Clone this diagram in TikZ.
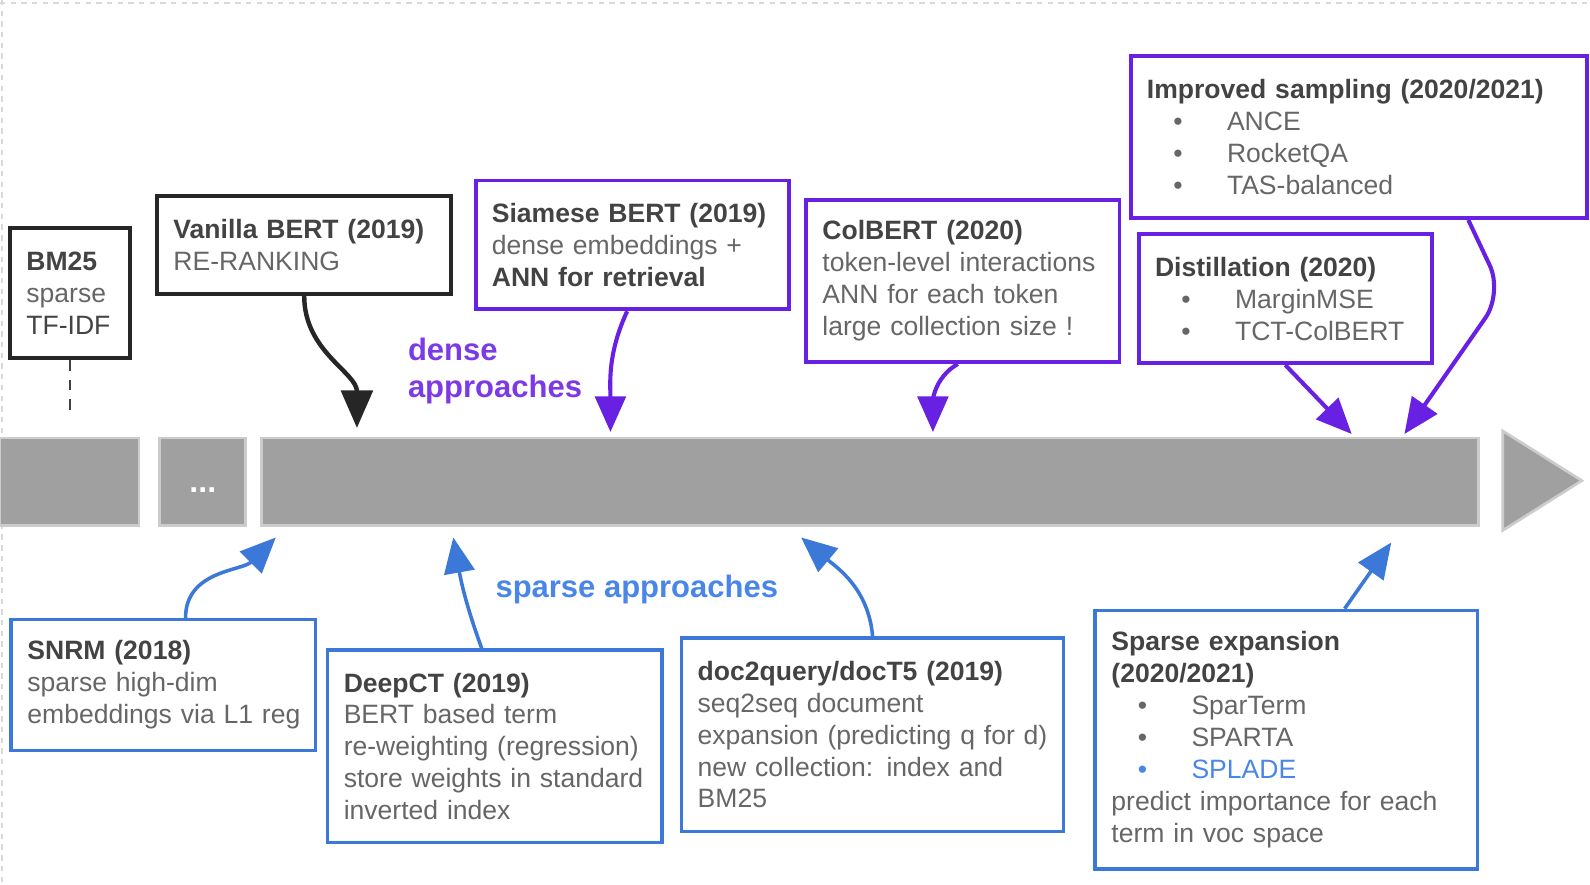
\documentclass[tikz,border=0pt]{standalone}
\usepackage{fontspec}
\setmainfont{Liberation Sans}
\usepackage{xcolor}
\usepackage{tikz}
\usetikzlibrary{arrows.meta}

\definecolor{dviolet}{RGB}{104,32,226}
\definecolor{dvtext}{RGB}{124,58,230}
\definecolor{sblue}{RGB}{60,120,216}
\definecolor{sbtext}{RGB}{74,134,232}
\definecolor{ttlgray}{RGB}{67,67,67}
\definecolor{txtgray}{RGB}{102,102,102}
\definecolor{barfill}{RGB}{160,160,160}
\definecolor{baredge}{RGB}{204,204,204}

\newcommand{\ttl}[1]{\textbf{\color{ttlgray}#1}}
\newcommand{\blt}{\hspace*{0.52cm}\makebox[1.06cm][l]{\textbullet}}

\begin{document}
\begin{tikzpicture}[
  x=0.02cm, y=0.02cm,
  event/.style={line width=2.2pt, align=left, inner xsep=0.32cm, inner ysep=0pt,
    text=txtgray, font=\fontsize{14.9}{17.9}\selectfont},
  basebox/.style={event, draw=black!85},
  densebox/.style={event, draw=dviolet},
  sparsebox/.style={event, draw=sblue, line width=2pt},
  era/.style={font=\fontsize{17.4}{21}\selectfont\bfseries, align=left, inner sep=0pt},
  seg/.style={fill=barfill, draw=baredge, line width=1.5pt},
  basearr/.style={line width=2.5pt, black!85, -{Triangle[length=0.74cm, width=0.62cm]}},
  densearr/.style={line width=2.3pt, dviolet, -{Triangle[length=0.7cm, width=0.6cm]}},
  sparsearr/.style={line width=2pt, sblue, -{Triangle[length=0.7cm, width=0.6cm]}},
]
  \useasboundingbox (0,0) rectangle (1568,-872);

  % faint frame
  \draw[gray!30, dashed, line width=0.8pt] (0,-3) -- (1568,-3);
  \draw[gray!30, dashed, line width=0.8pt] (2,0) -- (2,-872);

  % timeline
  \draw[seg] (0,-432) rectangle (137,-518);
  \draw[seg] (157,-432) rectangle (242,-518);
  \draw[seg] (258,-432) rectangle (1458,-518);
  \draw[seg] (1482,-425) -- (1560,-474) -- (1482,-523) -- cycle;
  \node[text=white, font=\bfseries\fontsize{18}{18}\selectfont] (more) at (200,-483) {...};

  % arrow tips on the timeline
  \coordinate (bm25-t) at (69,-412);
  \coordinate (vbert-t) at (352,-422);
  \coordinate (siam-t) at (602,-426);
  \coordinate (colbert-t) at (920,-426);
  \coordinate (distil-t) at (1333,-428);
  \coordinate (sampling-t) at (1385,-428);
  \coordinate (snrm-t) at (272,-530);
  \coordinate (deepct-t) at (447,-530);
  \coordinate (doc2q-t) at (790,-530);
  \coordinate (spexp-t) at (1372,-535);

  % above the line
  \node[basebox, text width=1.72cm, minimum height=2.56cm] (bm25) at (69,-289)
    {\ttl{BM25}\\sparse\\{\color{ttlgray}TF-IDF}};
  \node[basebox, text width=5.16cm, minimum height=1.94cm] (vbert) at (300,-241.5)
    {\ttl{Vanilla BERT (2019)}\\RE-RANKING};
  \node[densebox, text width=5.54cm, minimum height=2.54cm] (siam) at (623.5,-241.5)
    {\ttl{Siamese BERT (2019)}\\dense embeddings +\\\ttl{ANN for retrieval}};
  \node[densebox, text width=5.54cm, minimum height=3.2cm] (colbert) at (949.5,-277)
    {\ttl{ColBERT (2020)}\\token-level interactions\\ANN for each token\\large collection size !};
  \node[densebox, text width=8.36cm, minimum height=3.2cm] (sampling) at (1340,-135)
    {\ttl{Improved sampling (2020/2021)}\\\blt ANCE\\\blt RocketQA\\\blt TAS-balanced};
  \node[densebox, text width=5.14cm, minimum height=2.54cm] (distil) at (1267.5,-294.5)
    {\ttl{Distillation (2020)}\\\blt MarginMSE\\\blt TCT-ColBERT};

  \node[era, text=dvtext, anchor=west] (dense) at (402,-366) {dense\\approaches};

  % below the line
  \node[sparsebox, text width=5.36cm, minimum height=2.58cm] (snrm) at (161,-675.5)
    {\ttl{SNRM (2018)}\\sparse high-dim\\\mbox{embeddings via L1 reg}};
  \node[sparsebox, text width=5.96cm, minimum height=3.8cm] (deepct) at (488,-736)
    {\ttl{DeepCT (2019)}\\BERT based term\\re-weighting (regression)\\store weights in standard\\inverted index};
  \node[sparsebox, text width=6.9cm, minimum height=3.82cm] (doc2q) at (860.5,-724.5)
    {\ttl{doc2query/docT5 (2019)}\\seq2seq document\\\mbox{expansion (predicting q for d)}\\new collection: index and\\BM25};
  \node[sparsebox, text width=6.9cm, minimum height=5.1cm] (spexp) at (1268.5,-729.5)
    {\ttl{Sparse expansion}\\\ttl{(2020/2021)}\\\blt SparTerm\\\blt SPARTA\\{\color{sbtext}\blt SPLADE}\\predict importance for each\\term in voc space};

  \node[era, text=sbtext] (sparse) at (628,-581) {sparse approaches};

  % connectors
  \draw[black!75, line width=1.5pt, dash pattern=on 6pt off 5pt] (bm25.south) -- (bm25-t);
  \draw[basearr] (vbert.south) to[out=-90, in=90] (vbert-t);
  \draw[densearr] ([xshift=-0.1cm]siam.south) to[out=-115, in=90] (siam-t);
  \draw[densearr] ([xshift=-0.1cm]colbert.south) to[out=-150, in=90] (colbert-t);
  \draw[densearr] (distil.south) -- (distil-t);
  \draw[densearr, rounded corners=0.6cm] ([xshift=2.16cm]sampling.south) -- ++(34,-72) -- (sampling-t);

  \draw[sparsearr] ([xshift=0.44cm]snrm.north) to[out=90, in=-135] (snrm-t);
  \draw[sparsearr] ([xshift=-0.26cm]deepct.north) to[out=110, in=-80] (deepct-t);
  \draw[sparsearr] (doc2q.north) to[out=95, in=-40] (doc2q-t);
  \draw[sparsearr] ([xshift=1.15cm]spexp.north) -- (spexp-t);
\end{tikzpicture}
\end{document}
